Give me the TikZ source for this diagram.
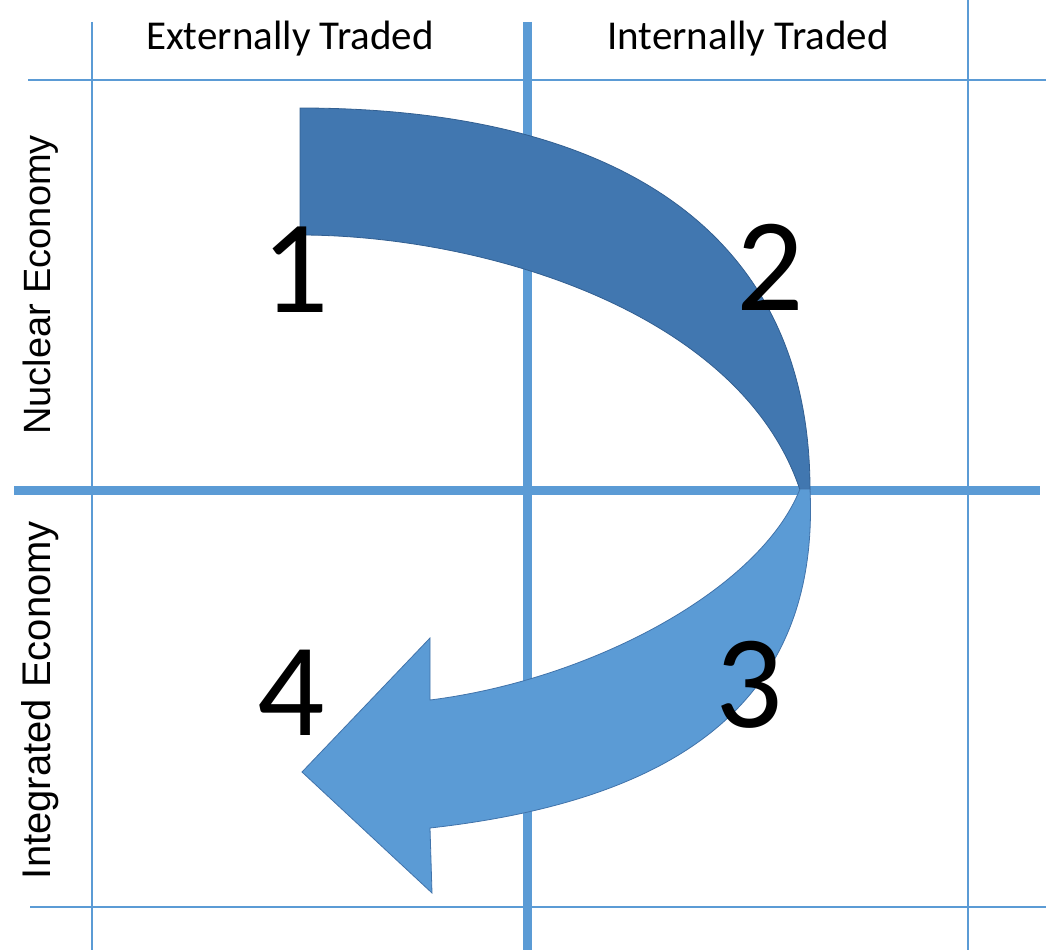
\documentclass[tikz,border=0pt]{standalone}
\usepackage{fontspec}
\setmainfont{Carlito}
\newfontfamily\sidefont{Liberation Sans}
\usetikzlibrary{positioning}

\definecolor{gridblue}{RGB}{91,155,213}
\definecolor{backblue}{RGB}{65,119,176}
\definecolor{backedge}{RGB}{50,95,145}
\definecolor{frontblue}{RGB}{91,155,213}
\definecolor{frontedge}{RGB}{65,115,170}

\tikzset{
  gridthin/.style={draw=gridblue, line width=1.6pt},
  gridthick/.style={draw=gridblue, line width=9pt},
  hdrlbl/.style={anchor=base, inner sep=0pt, font=\fontsize{41}{41}\selectfont},
  sidelbl/.style={anchor=base, inner sep=0pt, rotate=90, font=\sidefont\fontsize{38}{38}\selectfont},
  numlbl/.style={anchor=base, inner sep=0pt, font=\fontsize{133}{133}\selectfont}
}

\begin{document}
\begin{tikzpicture}[x=1pt, y=-1pt]
\useasboundingbox (0,0) rectangle (1046,950);

% grid
\draw[gridthin] (28,80) -- (1046,80);
\draw[gridthin] (30,907) -- (1046,907);
\draw[gridthin] (92,22) -- (92,950);
\draw[gridthin] (968,0) -- (968,950);
\draw[gridthick] (527,22) -- (527,950);
\draw[gridthick] (14,490) -- (1040,490);

% headers
\node[hdrlbl] (exttr) at (290,50) {Externally Traded};
\node[hdrlbl] (inttr) at (748,50) {Internally Traded};
\node[sidelbl] (nuclear) at (50,285) {Nuclear Economy};
\node[sidelbl, font=\sidefont\fontsize{40}{40}\selectfont] (integrated) at (50,700) {Integrated Economy};

% curved arrow, back part
\fill[backblue, draw=backedge, line width=0.8pt]
  (300,108) -- (300,235) .. controls (480,235) and (740,310) .. (800,490)
  -- (810,490) .. controls (810,220) and (600,108) .. (300,108) -- cycle;
% curved arrow, front part with head
\fill[frontblue, draw=frontedge, line width=0.8pt]
  (800,489) .. controls (760,590) and (590,680) .. (430,700)
  -- (430,638) -- (302,772) -- (432,893) -- (430,828)
  .. controls (680,800) and (820,700) .. (810,489) -- cycle;

% steps
\node[numlbl] (n1) at (295,312) {1};
\node[numlbl] (n2) at (770,310) {2};
\node[numlbl] (n3) at (749,727) {3};
\node[numlbl] (n4) at (291,735) {4};
\end{tikzpicture}
\end{document}
